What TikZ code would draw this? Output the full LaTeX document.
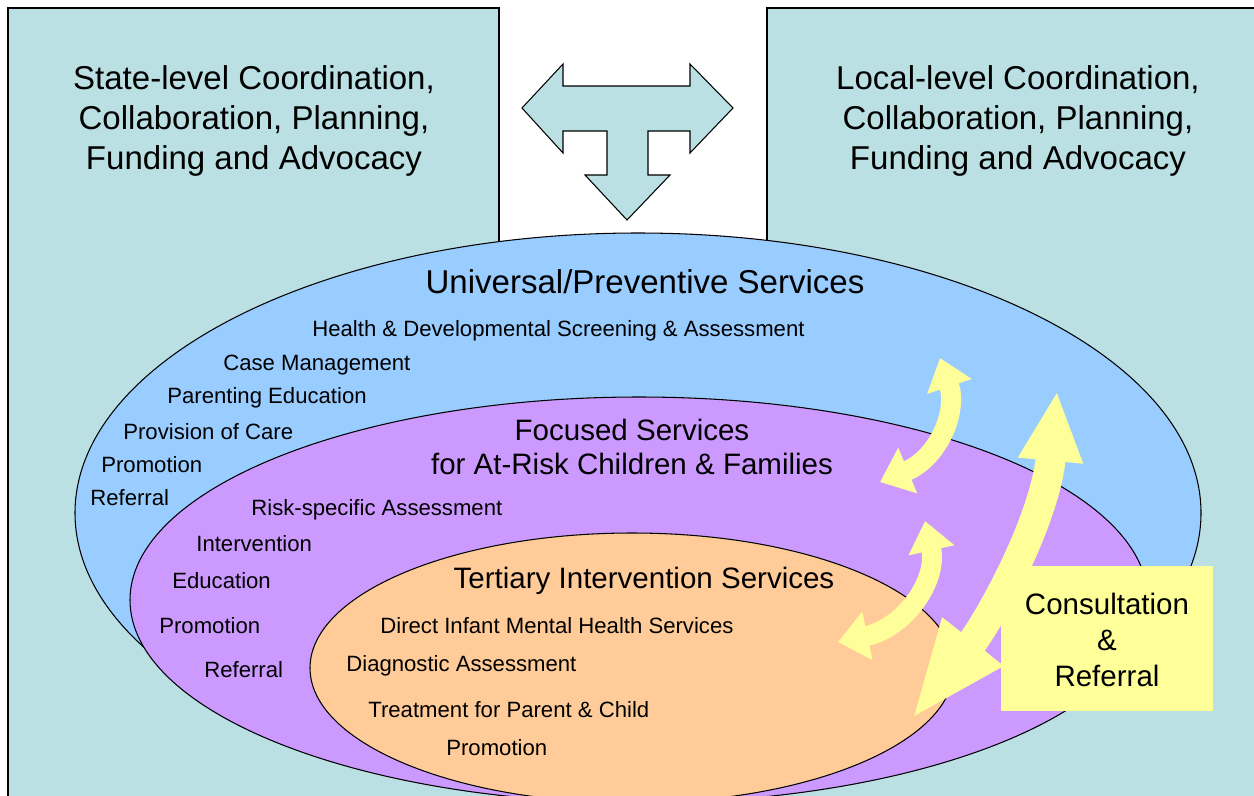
\documentclass[tikz,border=0pt]{standalone}
\usepackage{fontspec}
\setmainfont{Liberation Sans}
\usetikzlibrary{arrows.meta}
\definecolor{panel}{HTML}{BBE0E3}
\definecolor{univ}{HTML}{99CCFF}
\definecolor{focus}{HTML}{CC99FF}
\definecolor{tert}{HTML}{FFCC99}
\definecolor{consult}{HTML}{FFFF99}
\tikzset{
  big/.style={font=\fontsize{18.8}{22.8}\selectfont, align=center},
  mid/.style={font=\fontsize{16.8}{19}\selectfont, align=center},
  item/.style={font=\fontsize{12.6}{15}\selectfont, anchor=west, inner sep=0pt},
  outline/.style={draw=black, line width=0.6pt},
  swirl/.style={draw=consult, line width=0.4cm},
}

\begin{document}
\begin{tikzpicture}[x=0.02cm,y=-0.02cm]
\useasboundingbox (0,0) rectangle (1254,795);
\clip (0,0) rectangle (1254,795);
\fill[white] (0,0) rectangle (1254,795);
% the two coordination panels
\draw[outline, fill=panel] (8,8) rectangle (499,830);
\draw[outline, fill=panel] (767,8) rectangle (1280,830);
\node[big] (state) at (254,121) {State-level Coordination,\\ Collaboration, Planning,\\ Funding and Advocacy};
\node[big] (local) at (1018,121) {Local-level Coordination,\\ Collaboration, Planning,\\ Funding and Advocacy};
% the T arrow
\draw[outline, fill=panel] (522,108) -- (563,64) -- (563,86) -- (690,86) -- (690,64)
  -- (733,108) -- (690,153) -- (690,131) -- (648,131) -- (648,175) -- (670,175)
  -- (627,220) -- (585,175) -- (607,175) -- (607,131) -- (563,131) -- (563,153) -- cycle;
% the three service levels
\draw[outline, fill=univ] (638,513) ellipse [x radius=563, y radius=280];
\draw[outline, fill=focus] (639,600) ellipse [x radius=509, y radius=203];
\draw[outline, fill=tert] (632,668) ellipse [x radius=322, y radius=135];
%     universal
\node[big] (univ) at (645,282) {Universal/Preventive Services};
\node[item] (u1) at (312,331) {Health \& Developmental Screening \& Assessment};
\node[item] (u2) at (223,365) {Case Management};
\node[item] (u3) at (167,398) {Parenting Education};
\node[item] (u4) at (123,432) {Provision of Care};
\node[item] (u5) at (101,465) {Promotion};
\node[item] (u6) at (90,498) {Referral};
%     focused
\node[mid] (focus) at (632,447) {Focused Services\\ for At-Risk Children \& Families};
\node[item] (f1) at (251,510) {Risk-specific Assessment};
\node[item] (f2) at (196,544) {Intervention};
\node[item] (f3) at (172,581) {Education};
\node[item] (f4) at (159,626) {Promotion};
\node[item] (f5) at (204,670) {Referral};
%     tertiary
\node[mid] (tert) at (644,581) {Tertiary Intervention Services};
\node[item] (t1) at (380,626) {Direct Infant Mental Health Services};
\node[item] (t2) at (346,666) {Diagnostic Assessment};
\node[item] (t3) at (368,710) {Treatment for Parent \& Child};
\node[item] (t4) at (446,748) {Promotion};
% the yellow swirls
\draw[swirl, {Triangle[length=0.6cm,width=0.95cm]}-{Triangle[length=0.6cm,width=0.9cm]}]
  (880,482) .. controls (938,458) and (958,412) .. (940,358);
\draw[swirl, {Triangle[length=0.6cm,width=0.95cm]}-{Triangle[length=0.6cm,width=0.9cm]}]
  (838,642) .. controls (905,628) and (938,580) .. (925,521);
\draw[swirl, line width=0.6cm, {Triangle[length=2cm,width=1.4cm]}-{Triangle[length=1.4cm,width=1.2cm]}]
  (911,720) .. controls (990,620) and (1045,520) .. (1057,391);
% consultation box
\fill[consult] (1001,566) rectangle (1213,711);
\node[mid, font=\fontsize{16.8}{20.5}\selectfont] (consult) at (1107,640) {Consultation\\ \&\\ Referral};
\end{tikzpicture}
\end{document}
